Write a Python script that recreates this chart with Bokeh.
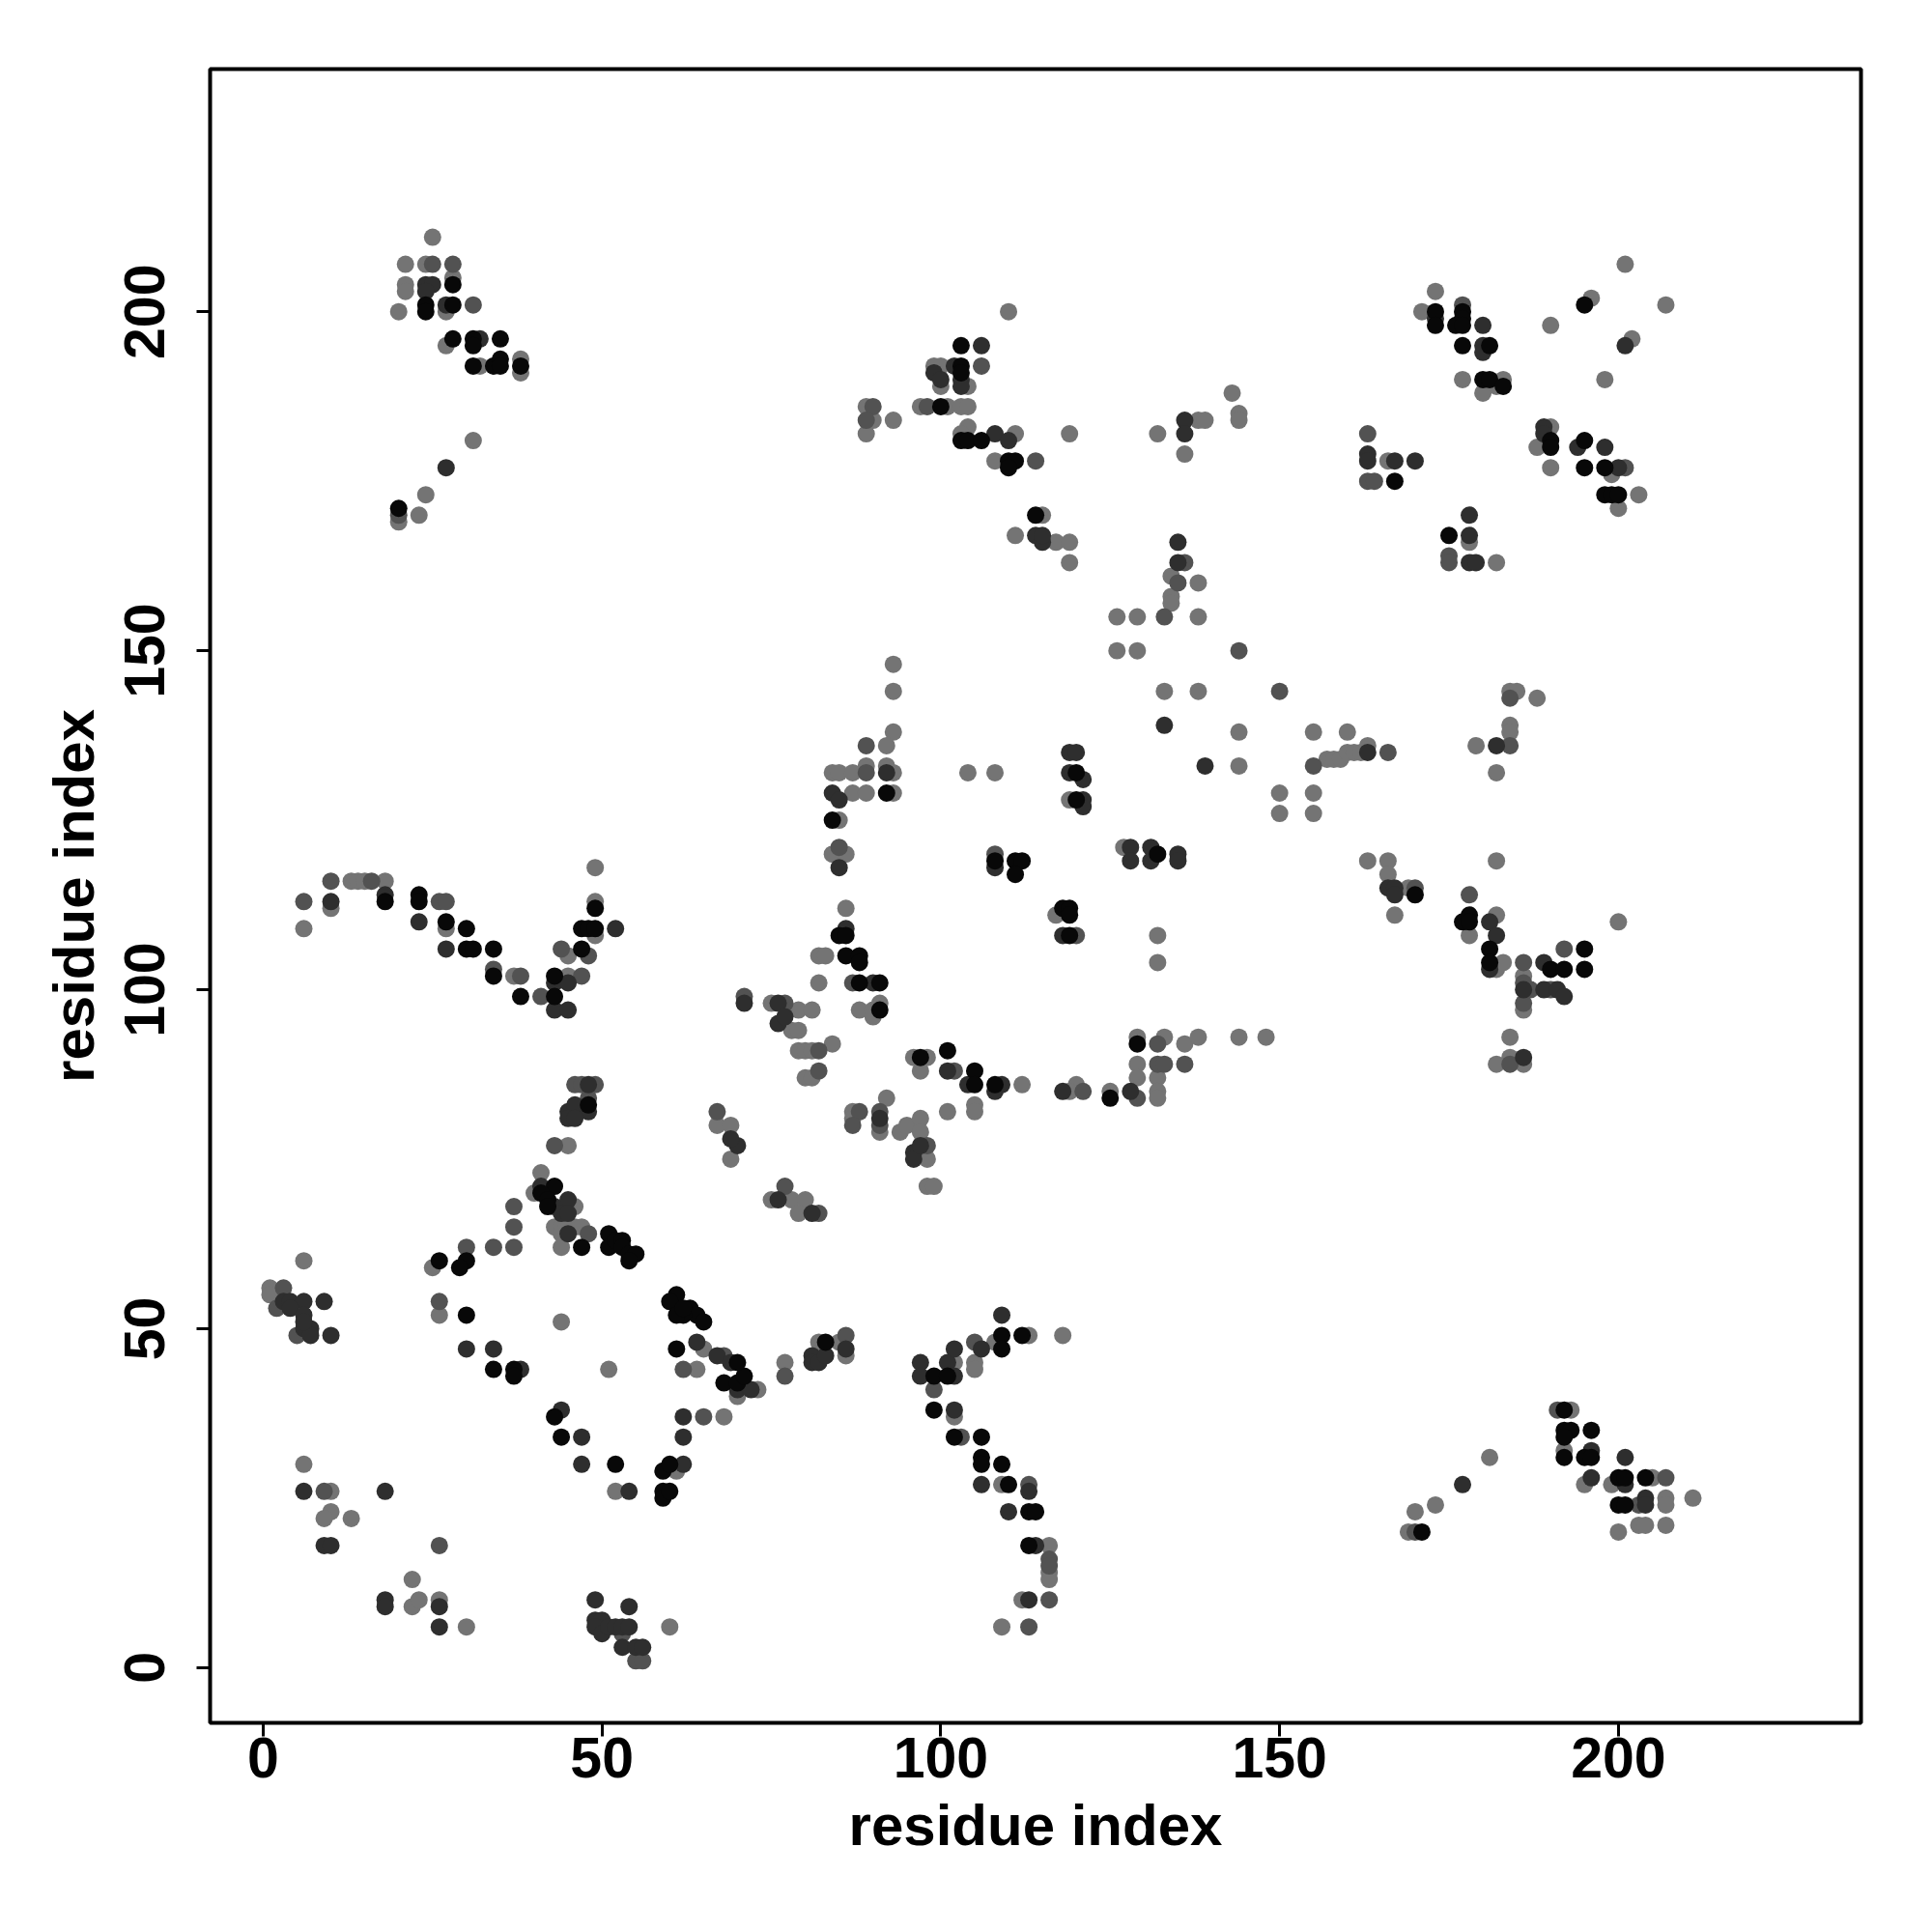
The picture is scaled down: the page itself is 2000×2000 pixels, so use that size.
from bokeh.plotting import figure
from bokeh.models import FixedTicker, Range1d
from bokeh.embed import file_html
from bokeh.resources import INLINE

# ---- data: residue-index contact pairs, grouped by grey level ----
grey_x = [25,21,24,21,21,28,20,27,27,32,38,38,31,24,20,23,
          110,99,100,100,104,97,101,103,104,89,90,89,93,104,103,111,119,108,115,111,117,119,119,132,138,139,136,143,144,144,138,134,
          201,173,171,207,196,202,177,183,180,182,190,198,190,188,190,199,203,200,166,178,182,
          49,6,10,13,14,15,18,49,27,49,
          45,37,45,41,45,40,46,43,44,46,47,44,44,25,6,69,67,69,1,2,1,26,44,
          65,64,70,6,10,10,9,13,22,22,23,26,30,61,52,60,68,51,
          73,77,82,86,85,102,105,105,108,113,118,102,109,116,116,116,112,109,
          181,173,170,169,193,192,195,199,205,207,207,211,200,203,204,207,
          144,148,182,183,186,186,184,182,184,186,
          144,144,155,160,157,158,159,160,161,162,163,150,150,155,155,184,185,188,184,184,179,182,163,166,182,166,169,167,178,182,200,
          134,134,126,129,138,126,129,133,138,93,93,93,92,84,85,87,93,89,92,87,89,93,85,84,86,104,108,86,82,83,117,132,127,119,
          82,88,90,91,90,75,79,81,78,79,79,80,81,84,80,81,98,97,96,112,120,119,125,129,133,136,138,129,129,132,132,132,132,92,87,87,91,94,95,97,97,98,98,99,101,105,105,75,78,80,79]
grey_y = [211,207,207,204,203,205,200,200,195,192,193,191,181,173,169,170,
          200,192,192,189,189,186,186,186,186,186,184,182,184,183,182,182,182,178,170,167,166,166,163,182,184,184,179,188,185,184,160,161,
          207,203,200,201,202,196,190,190,188,189,198,190,183,180,177,176,173,171,178,166,163,
          118,109,112,116,116,116,116,113,109,108,
          105,102,102,73,77,70,68,65,65,65,65,64,62,59,60,75,80,80,56,55,55,52,51,
          47,44,40,30,26,23,22,22,13,9,10,10,6,29,26,6,37,44,
          41,45,48,46,48,45,45,44,48,49,49,37,27,18,14,13,10,6,
          31,24,23,20,38,32,27,27,28,25,24,25,20,21,21,21,
          93,93,103,104,102,97,93,89,90,89,
          138,133,138,138,134,134,134,135,135,135,136,129,126,129,126,144,144,143,139,138,136,132,119,119,119,117,115,111,108,111,110,
          158,157,155,155,155,150,150,144,144,148,144,138,136,132,132,132,132,133,133,129,129,129,125,120,120,132,132,112,105,105,111,108,121,128,
          101,97,97,98,96,98,97,97,94,94,91,91,91,92,87,87,90,88,90,86,86,85,85,93,93,92,93,89,87,87,85,84,104,84,82,81,79,79,80,81,79,75,71,71,82,83,82,69,69,69,67]

mid_x = [25,28,31,20,
         106,98,90,89,114,136,135,
         177,163,201,163,164,175,175,
         6,10,16,26,27,44,
         48,34,38,47,41,71,46,47,49,48,43,48,37,37,37,34,30,67,3,2,26,
         62,68,5,9,26,65,53,55,56,
         77,86,99,105,113,116,116,116,113,103,
         170,191,207,203,
         186,186,186,187,192,184,190,
         144,150,155,166,184,184,170,178,
         133,89,89,85,120,108,
         87,77,82,82,102,121,129,132,132,133,136,88,87,91,91,98,77,82]
mid_y = [207,207,201,170,
         192,186,186,184,178,163,160,
         201,182,177,175,175,164,163,
         113,116,116,113,113,106,
         105,103,102,102,99,99,86,86,86,84,77,64,68,65,62,62,62,82,56,53,54,
         44,46,49,26,18,37,5,1,1,
         43,49,41,48,27,16,15,10,6,34,
         20,38,28,24,
         104,101,98,100,106,89,100,
         150,144,133,135,143,136,115,114,
         155,136,132,121,108,120,
         101,98,91,88,88,85,84,92,89,89,89,82,80,82,80,77,71,67]

dark_x = [24,25,24,27,32,27,
          106,99,100,103,103,102,108,110,114,115,115,136,136,135,135,
          173,180,180,180,201,189,189,194,198,200,163,163,167,170,178,178,178,179,
          10,18,23,52,27,
          43,45,43,45,48,45,46,48,45,46,41,45,43,44,45,45,70,69,3,4,6,9,4,6,71,
          6,7,7,10,6,30,34,38,44,47,47,54,62,62,62,64,67,69,6,18,9,10,18,18,26,26,49,54,49,50,49,50,51,52,53,54,53,55,56,
          70,72,81,81,82,83,86,97,97,101,102,102,106,109,102,106,113,110,114,113,
          177,196,196,201,201,204,204,
          181,189,186,189,191,192,186,
          163,182,166,167,167,181,182,
          133,139,92,84,85,85,119,120,119,121,121,121,108,128,131,131,135,135,128,86,118,
          90,76,76,77,101,104,109,108,118,128,91,96,96,97,76,81]
dark_y = [204,204,203,201,196,177,
          195,191,190,190,189,192,182,181,167,166,167,184,182,166,163,
          199,198,195,194,195,183,182,180,180,177,179,178,178,178,170,167,163,163,
          113,114,110,109,106,
          101,101,97,97,86,82,83,82,81,81,71,69,68,67,67,64,77,78,54,54,54,54,53,52,98,
          50,50,49,49,51,47,47,44,38,34,30,26,30,37,34,48,46,45,26,26,18,18,10,9,9,6,10,9,7,7,6,5,6,6,6,6,3,3,3,
          41,41,46,45,45,46,47,45,43,45,47,43,47,52,38,27,26,23,18,10,
          27,32,28,31,27,25,24,
          103,104,100,100,100,99,90,
          135,136,115,115,114,110,108,
          139,133,132,129,128,118,135,135,132,131,128,127,118,121,121,119,120,119,119,109,108,
          101,98,95,96,88,86,86,85,85,85,81,76,75,77,69,67]

black_x = [24,24,28,28,28,31,31,35,31,34,35,35,38,20,
           103,103,103,100,103,104,106,110,111,110,114,
           173,173,177,177,176,177,177,181,180,181,183,195,190,190,195,195,198,198,199,200,167,175,
           18,23,23,27,30,49,47,48,49,30,31,34,47,
           34,38,43,43,48,43,41,42,42,47,30,29,26,51,51,52,53,53,54,55,54,61,60,63,64,30,
           34,37,37,43,44,52,59,60,59,59,60,61,68,70,62,61,62,65,
           71,83,99,101,109,109,112,99,102,106,106,106,109,110,113,114,113,70,
           171,192,192,193,196,192,192,195,196,200,201,204,200,201,
           181,181,190,192,195,195,
           170,177,178,178,
           92,84,120,120,108,111,112,111,132,85,86,86,88,88,118,119,119,119,
           88,91,91,97,101,105,105,108,125,129]
black_y = [201,200,201,204,196,196,195,196,192,192,193,192,192,171,
           195,192,191,186,181,181,181,178,178,177,170,
           200,198,200,199,198,198,195,195,190,190,189,201,181,180,181,177,177,173,173,173,175,167,
           113,114,113,110,109,112,109,109,109,106,106,106,106,
           102,99,102,99,83,71,70,69,68,62,60,59,60,64,62,63,63,62,61,61,60,55,54,53,52,52,
           44,44,43,37,34,30,29,30,26,25,26,47,42,42,52,52,53,51,
           43,48,43,43,49,47,49,38,34,34,31,30,30,27,23,23,18,45,
           20,38,35,35,35,34,31,31,31,28,28,28,24,24,
           106,104,103,103,106,103,
           114,110,111,110,
           129,125,132,128,119,119,119,117,120,108,108,105,105,104,112,112,111,108,
           101,101,97,90,91,88,86,86,84,92]

tick_values = [0, 50, 100, 150, 200]
axis_title = "residue index"

series = [
    (grey_x, grey_y, "#747474"),
    (mid_x, mid_y, "#525252"),
    (dark_x, dark_y, "#2e2e2e"),
    (black_x, black_y, "#080808"),
]

p = figure(width=1984, height=1984, output_backend="svg", toolbar_location=None,
           x_range=Range1d(-7.83, 235.8), y_range=Range1d(-8.15, 235.8),
           min_border_left=217, min_border_right=58, min_border_top=71, min_border_bottom=201)

for xs, ys, col in series:
    p.scatter(xs, ys, size=18, fill_color=col, line_color=None)

p.grid.visible = False
p.outline_line_color = "black"
p.outline_line_width = 4
p.background_fill_color = "white"
p.border_fill_color = "white"

for ax in (p.xaxis[0], p.yaxis[0]):
    ax.ticker = FixedTicker(ticks=tick_values)
    ax.axis_label = axis_title
    ax.axis_line_color = None
    ax.major_tick_line_color = "black"
    ax.major_tick_line_width = 3
    ax.major_tick_out = 14
    ax.major_tick_in = 0
    ax.minor_tick_line_color = None
    ax.major_label_text_font = "Liberation Sans"
    ax.major_label_text_font_style = "bold"
    ax.major_label_text_font_size = "59px"
    ax.major_label_text_color = "black"
    ax.axis_label_text_font = "Liberation Sans"
    ax.axis_label_text_font_style = "bold"
    ax.axis_label_text_font_size = "60px"
    ax.axis_label_text_color = "black"

p.xaxis.major_label_standoff = 1
p.xaxis.axis_label_standoff = 13
p.yaxis.major_label_orientation = "vertical"
p.yaxis.major_label_standoff = 33
p.yaxis.axis_label_standoff = 17

open("out.html", "w").write(file_html(p, INLINE))
